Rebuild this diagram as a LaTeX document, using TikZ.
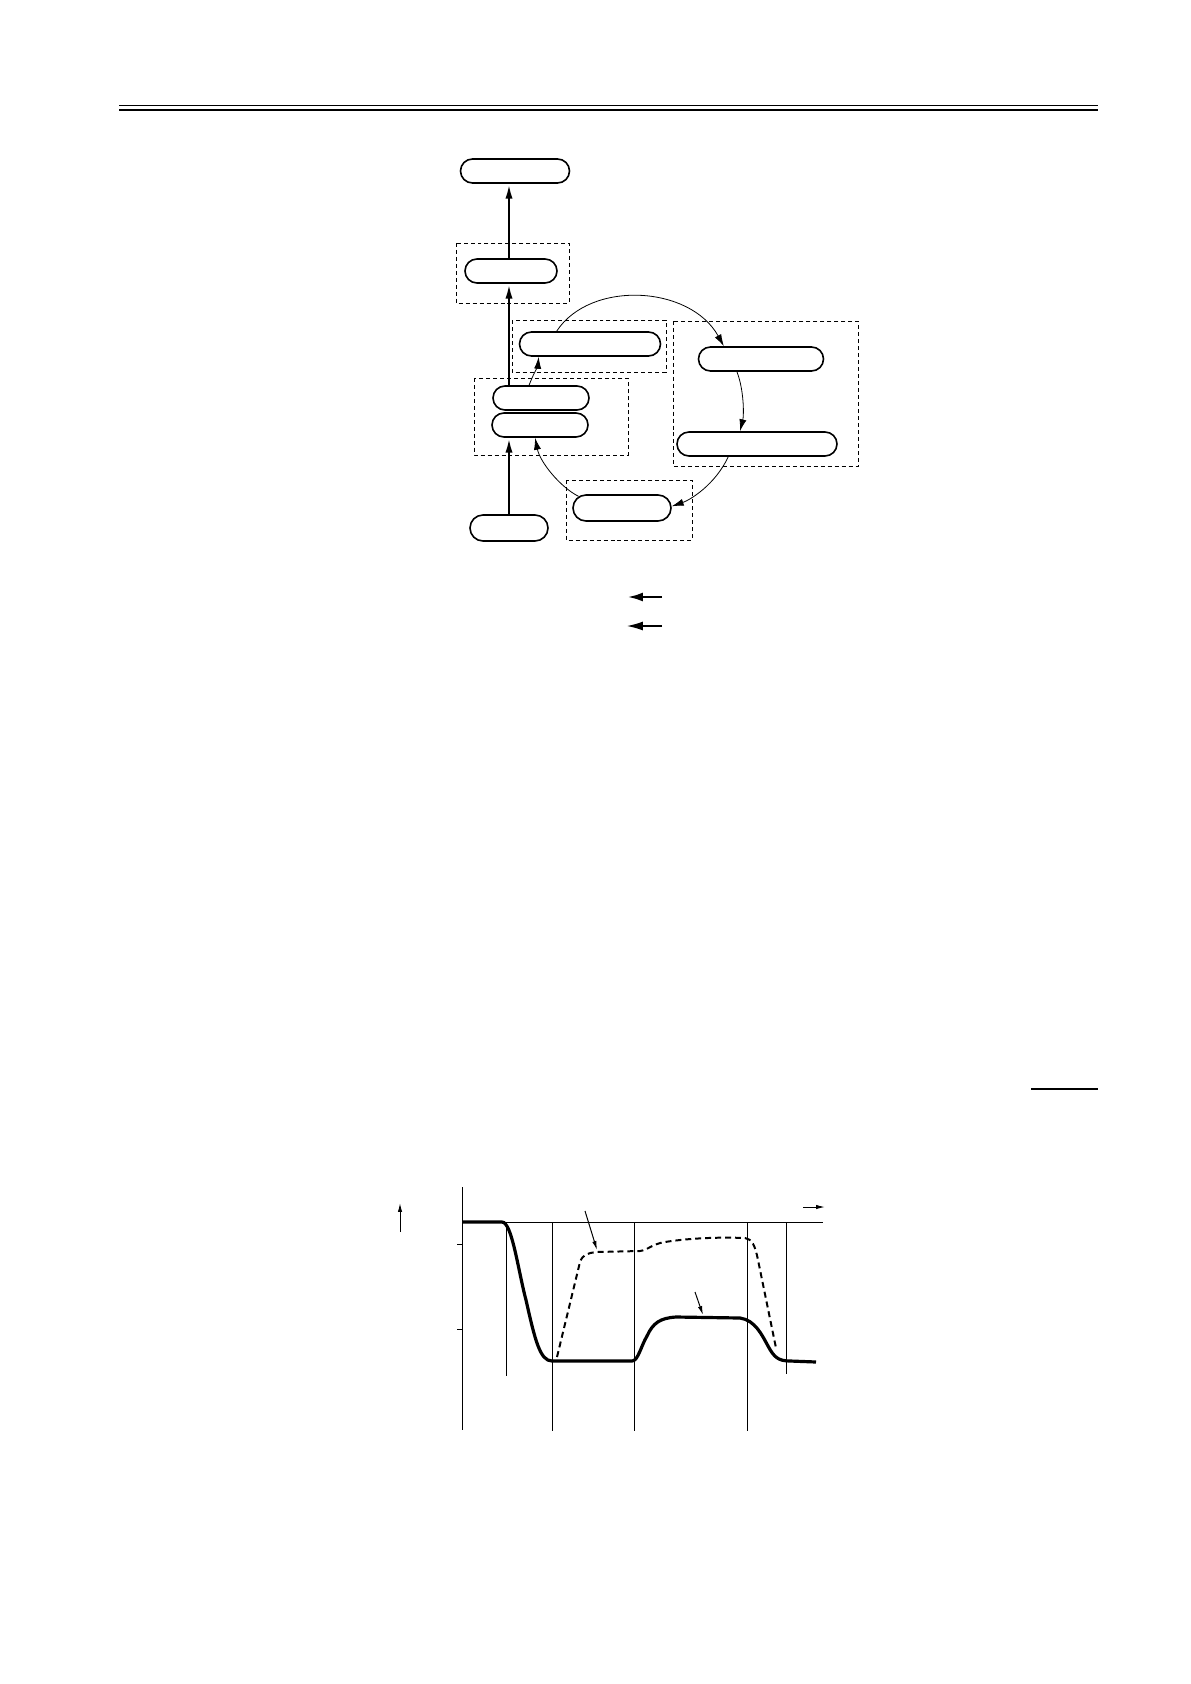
\documentclass[tikz,border=0pt]{standalone}
\usepackage{tikz}
\usetikzlibrary{arrows.meta, shapes.misc}

\def\ux{0.01765}

\begin{document}
\begin{tikzpicture}[x=\ux cm, y=-\ux cm,
	pill/.style={rounded rectangle, draw, line width=0.8pt, inner sep=0pt, minimum height=24*\ux cm},
	grpbox/.style={draw, line width=0.5pt, dash pattern=on 2pt off 1.5pt},
	flow/.style={line width=1.2pt, -{Latex[length=7.5pt, width=3.6pt]}},
	cycle/.style={line width=0.4pt, -{Latex[length=6pt, width=3.6pt]}},
	axis/.style={line width=0.5pt},
	pointer/.style={line width=0.5pt, -{Latex[length=4.5pt, width=2.2pt]}}]
	
	\useasboundingbox (0,0) rectangle (1190,1684);
	
	% page header
	\draw[line width=0.5pt] (119,105) -- (1098,105);
	\draw[line width=1.5pt] (119,110) -- (1098,110);
	
	% group boxes
	\draw[grpbox] (456,243) rectangle (569,303);
	\draw[grpbox] (512,320) rectangle (666,372);
	\draw[grpbox] (673,321) rectangle (858,466);
	\draw[grpbox] (474,378) rectangle (628,455);
	\draw[grpbox] (566,480) rectangle (692,540);
	
	% nodes
	\node[pill, minimum width=109*\ux cm] (top) at (515,171) {};
	\node[pill, minimum width=92*\ux cm] (hold) at (511,271) {};
	\node[pill, minimum width=141*\ux cm] (upA) at (590,344) {};
	\node[pill, minimum width=125*\ux cm] (rgtA) at (761,359) {};
	\node[pill, minimum width=160*\ux cm] (rgtB) at (757,444) {};
	\node[pill, minimum width=96*\ux cm] (midA) at (541,398) {};
	\node[pill, minimum width=96*\ux cm] (midB) at (540,425) {};
	\node[pill, minimum width=98*\ux cm, minimum height=26*\ux cm] (low) at (622,508) {};
	\node[pill, minimum width=78*\ux cm, minimum height=26*\ux cm] (start) at (509,528) {};
	
	% main flow
	\draw[flow] (start.north) -- (start.north |- midB.south);
	\draw[flow] (midA.north -| start.north) -- (start.north |- hold.south);
	\draw[flow] (start.north |- hold.north) -- (start.north |- top.south);
	
	% cycle
	\draw[cycle] (midA.133) .. controls (533,375) and (538,365) .. (upA.194);
	\draw[cycle] (upA.159) .. controls (590,280) and (690,285) .. (rgtA.161);
	\draw[cycle] (rgtA.208) .. controls (744,390) and (744,415) .. (rgtB.143);
	\draw[cycle] (rgtB.204) .. controls (715,485) and (690,500) .. (low.2);
	\draw[cycle] (low.165) .. controls (560,487) and (540,462) .. (midB.249);
	
	% legend
	\coordinate (lgA) at (662,597);
	\coordinate (lgB) at (662,626);
	\draw[line width=1.4pt, -{Latex[length=8pt, width=4.5pt]}] (lgA) -- ++(-35,0);
	\draw[line width=0.6pt, -{Latex[length=8pt, width=4.5pt]}] (lgB) -- ++(-35,0);
	
	\draw[line width=1pt] (1031,1089) -- (1098,1089);
	
	% chart
	\draw[axis] (462,1187) -- (462,1430);
	\draw[axis] (462,1222) -- (823,1222);
	\draw[axis] (457,1244) -- (462,1244);
	\draw[axis] (457,1329) -- (462,1329);
	\draw[axis] (506,1222) -- (506,1376);
	\draw[axis] (552,1222) -- (552,1431);
	\draw[axis] (634,1222) -- (634,1431);
	\draw[axis] (747,1222) -- (747,1431);
	\draw[axis] (786,1222) -- (786,1374);
	\coordinate (upT) at (400,1232);
	\coordinate (rgtT) at (803,1207);
	\draw[pointer] (upT) -- ++(0,-29);
	\draw[pointer] (rgtT) -- ++(22,0);
	
	\draw[line width=1.6pt] (462,1222) -- (502,1222)
		.. controls (512,1222) and (518,1270) .. (526,1300)
		.. controls (535,1340) and (540,1361) .. (552,1361) -- (632,1361)
		.. controls (638,1361) and (641,1346) .. (647,1336)
		.. controls (653,1323) and (660,1318) .. (676,1317) -- (740,1318)
		.. controls (755,1320) and (762,1335) .. (768,1346)
		.. controls (774,1357) and (778,1361) .. (790,1361) -- (816,1362);
	\draw[line width=1pt, dash pattern=on 3pt off 2pt] (557,1357) -- (580,1262)
		.. controls (583,1254) and (588,1253) .. (597,1252) -- (640,1251)
		.. controls (648,1250) and (652,1244) .. (665,1242)
		.. controls (690,1238) and (720,1237) .. (745,1238)
		.. controls (752,1239) and (755,1245) .. (758,1260) -- (776,1348);
	
	\coordinate (tagA) at (585,1211);
	\coordinate (tagB) at (695,1292);
	\draw[pointer] (tagA) -- (597,1250);
	\draw[pointer] (tagB) -- (703,1315);
	
\end{tikzpicture}
\end{document}
